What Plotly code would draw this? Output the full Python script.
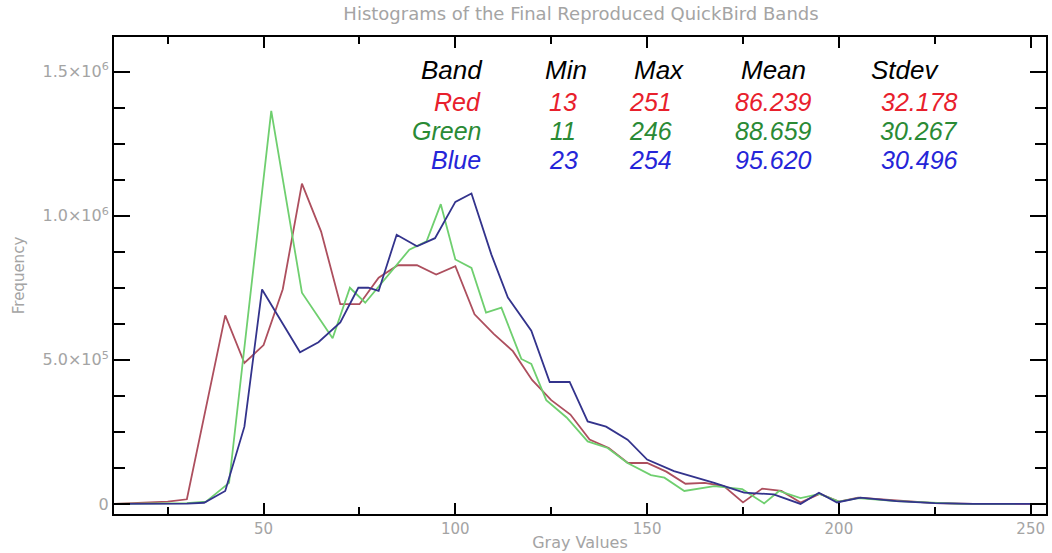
import plotly.graph_objects as go

# Histogram vertices per band: gray value -> pixel count
red_x = [11, 15, 20, 25, 30, 40, 45, 50, 55, 60, 65, 70, 75, 80, 85, 90, 95, 100,
         105, 110, 115, 120, 125, 130, 135, 140, 145, 150, 155, 160, 165, 170, 175,
         180, 185, 190, 195, 200, 205, 215, 225, 235, 251]
red_y = [0, 2000, 3000, 8000, 16000, 654000, 489000, 551000, 745000, 1111000, 945000,
         693000, 693000, 785000, 828000, 828000, 796000, 825000, 658000, 590000, 530000,
         430000, 360000, 310000, 223000, 194000, 142000, 142000, 112000, 70000, 73000,
         62000, 5000, 53000, 45000, 5000, 35000, 8000, 22000, 12000, 3000, 0, 0]

green_x = [11, 30, 35, 41, 52, 60, 68, 72.5, 76.5, 88, 92.5, 96.2, 100, 104.2, 108,
           112, 117.2, 119.8, 123.7, 129, 134.5, 139.7, 144.9, 151, 154.5, 159.7,
           167.5, 174.8, 180.5, 184.4, 190, 195, 200, 205, 215, 225, 232, 246]
green_y = [0, 3000, 8000, 73000, 1364000, 733000, 575000, 750000, 698000, 882000, 911000,
           1040000, 848000, 819000, 664000, 681000, 503000, 486000, 360000, 300000,
           217000, 194000, 142000, 100000, 91000, 45000, 62000, 51000, 2000, 45000,
           20000, 35000, 8000, 20000, 10000, 3000, 0, 0]

blue_x = [11, 23, 30, 34.5, 40, 45, 49.6, 59.5, 64.3, 70, 74.7, 77.3, 80, 84.7, 90,
          94.7, 100, 104.2, 109.4, 113.7, 119.8, 124.6, 129.8, 134.5, 139.3, 144.9,
          150, 157, 167.5, 175.3, 183, 190, 194.8, 199.5, 205.6, 215, 225, 235, 254]
blue_y = [0, 0, 1000, 4000, 45000, 268000, 744000, 526000, 561000, 630000, 750000,
          750000, 739000, 934000, 894000, 922000, 1048000, 1077000, 865000, 716000,
          601000, 423000, 423000, 286000, 268000, 223000, 154000, 114000, 73000, 39000,
          33000, 0, 39000, 5000, 22000, 10000, 3000, 0, 0]

# Summary statistics table
bands = ["Red", "Green", "Blue"]
band_min = ["13", "11", "23"]
band_max = ["251", "246", "254"]
band_mean = ["86.239", "88.659", "95.620"]
band_stdev = ["32.178", "30.267", "30.496"]
table_header = ["Band", "Min", "Max", "Mean", "Stdev"]

y_tickvals = [0, 500000, 1000000, 1500000]
y_ticktext = ["0", "5.0×10<sup>5</sup>", "1.0×10<sup>6</sup>", "1.5×10<sup>6</sup>"]
x_tickvals = [50, 100, 150, 200, 250]

line_colors = ["#ad4f5e", "#6fcf6f", "#33338c"]
text_colors = ["#e8202c", "#2a8a35", "#2525d8"]

W, H = 1052, 553
L, R, T, B = 114, 4, 37, 36
PW, PH = W - L - R, H - T - B


def px(xp):
    return (xp - L) / PW


def py(yp):
    return (H - B - yp) / PH


fig = go.Figure()
for xs, ys, col, name in [(red_x, red_y, line_colors[0], "Red"),
                          (green_x, green_y, line_colors[1], "Green"),
                          (blue_x, blue_y, line_colors[2], "Blue")]:
    fig.add_trace(go.Scatter(x=xs, y=ys, mode="lines", name=name,
                             line=dict(color=col, width=1.8), showlegend=False))

gray = "#a4a4a4"
tick_font = dict(family="DejaVu Sans", size=15, color=gray)
title_font = dict(family="DejaVu Sans", size=18, color=gray)
fig.update_xaxes(range=[11, 254], tickvals=x_tickvals, ticks="inside", ticklen=11,
                 tickwidth=2, tickcolor="black", showline=True, linecolor="black",
                 linewidth=2, mirror="allticks", showgrid=False, zeroline=False,
                 tickfont=tick_font,
                 minor=dict(dtick=25, tick0=0, ticks="inside", ticklen=7,
                            tickwidth=2, tickcolor="black", showgrid=False),
                 title=dict(text="Gray Values", font=dict(family="DejaVu Sans", size=16,
                                                          color=gray), standoff=0))
fig.update_yaxes(range=[-35000, 1620000], tickvals=y_tickvals, ticktext=y_ticktext,
                 ticks="inside", ticklen=16, tickwidth=2, tickcolor="black",
                 showline=True, linecolor="black", linewidth=2, mirror="allticks",
                 showgrid=False, zeroline=False, tickfont=dict(family="DejaVu Sans",
                                                               size=16, color=gray),
                 minor=dict(dtick=125000, tick0=0, ticks="inside", ticklen=11,
                            tickwidth=2, tickcolor="black", showgrid=False),
                 title=dict(text="Frequency", font=dict(family="DejaVu Sans", size=15,
                                                        color=gray), standoff=14))

ann = []
tfont = "Liberation Sans, Arial, sans-serif"
fs = 25
# header row
head_x = [453, 567, 660, 775, 907]
for txt, xc in zip(table_header, head_x):
    ann.append(dict(text=f"<i>{txt}</i>", x=px(xc), y=py(70), xref="paper", yref="paper",
                    showarrow=False, xanchor="center", yanchor="middle",
                    font=dict(family=tfont, size=fs + 1, color="black")))
row_y = [102, 132, 161]
for i, name in enumerate(bands):
    c = text_colors[i]
    cells = [(name, 484, "right"), (band_min[i], 564, "center"),
             (band_max[i], 652, "center"), (band_mean[i], 775, "center"),
             (band_stdev[i], 921, "center")]
    for txt, xc, anc in cells:
        ann.append(dict(text=f"<i>{txt}</i>", x=px(xc), y=py(row_y[i]), xref="paper",
                        yref="paper", showarrow=False, xanchor=anc, yanchor="middle",
                        font=dict(family=tfont, size=fs, color=c)))

fig.update_layout(
    width=W, height=H,
    margin=dict(l=L, r=R, t=T, b=B),
    paper_bgcolor="white", plot_bgcolor="white",
    title=dict(text="Histograms of the Final Reproduced QuickBird Bands",
               xref="container", x=581 / W, xanchor="center", y=1 - 14 / H,
               yanchor="middle", font=title_font),
    annotations=ann,
)

fig.write_html("out.html")
